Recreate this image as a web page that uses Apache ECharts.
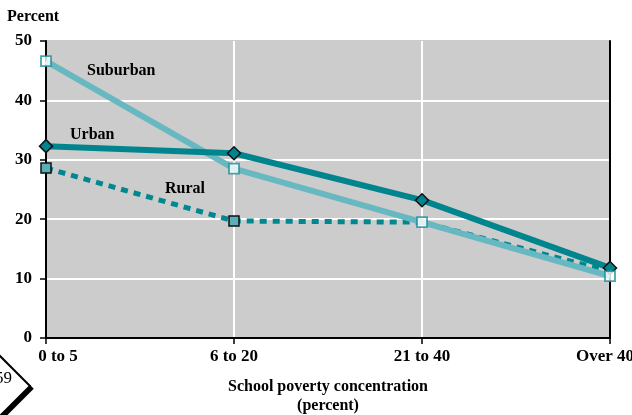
<!DOCTYPE html>
<html>
<head>
<meta charset="utf-8">
<script src="https://cdn.jsdelivr.net/npm/echarts@6/dist/echarts.min.js"></script>
<style>
  html, body { margin: 0; padding: 0; background: #ffffff; }
  #chart { width: 632px; height: 415px; }
</style>
</head>
<body>
<div id="chart"></div>
<script>
// School poverty concentration groups
const categories = ['0 to 5', '6 to 20', '21 to 40', 'Over 40'];

// Percent, by locale
const suburbanValues = [46.6, 28.5, 19.5, 10.4];
const urbanValues = [32.3, 31.1, 23.2, 11.8];
const ruralValues = [28.6, 19.7, 19.5, 11.2];

const yTicks = [0, 10, 20, 30, 40, 50];

const FONT = '"Liberation Serif", "Times New Roman", serif';
const DARK = '#00848e';
const LIGHT = '#68b8c2';
const RURAL = '#00878f';

const chart = echarts.init(document.getElementById('chart'), null, { renderer: 'canvas' });

// rural markers are only drawn where they are not hidden under another series
const ruralData = ruralValues.map((v, i) => (i < 2 ? v : { value: v, symbol: 'none' }));

const labelBase = { color: '#000', fontFamily: FONT, fontWeight: 'bold', fontSize: 17 };

chart.setOption({
  animation: false,
  backgroundColor: '#ffffff',
  textStyle: { fontFamily: FONT },
  grid: {
    left: 46, right: 22, top: 41, bottom: 77,
    containLabel: false,
    outerBoundsMode: 'none',
    show: true, backgroundColor: '#cccccc', borderWidth: 0
  },
  xAxis: {
    type: 'category',
    data: categories,
    boundaryGap: false,
    axisLine: { lineStyle: { color: '#000', width: 2 } },
    axisTick: { show: true, length: 6, lineStyle: { color: '#000', width: 1.5 } },
    axisLabel: {
      ...labelBase,
      margin: 10,
      formatter: (v, i) => (i === 0 ? '{first|' + v + '}' : i === categories.length - 1 ? '{last|' + v + '}' : v),
      rich: {
        first: { ...labelBase, padding: [0, 0, 0, 24] },
        last: { ...labelBase, padding: [0, 10, 0, 0] }
      }
    },
    splitLine: { show: true, lineStyle: { color: '#ffffff', width: 2 } },
    name: 'School poverty concentration\n(percent)',
    nameLocation: 'middle',
    nameGap: 39,
    nameTextStyle: {
      color: '#000', fontFamily: FONT, fontWeight: 'bold', fontSize: 16, lineHeight: 19
    }
  },
  yAxis: [
    {
      type: 'value',
      min: yTicks[0], max: yTicks[yTicks.length - 1], interval: 10,
      axisLine: { show: true, lineStyle: { color: '#000', width: 2 } },
      axisTick: { show: true, length: 6, lineStyle: { color: '#000', width: 1.5 } },
      axisLabel: { ...labelBase, margin: 14 },
      splitLine: {
        show: true,
        lineStyle: { color: ['#ffffff', '#ffffff', '#ffffff', '#ffffff', '#ffffff', '#cccccc'], width: 2 }
      }
    },
    {
      type: 'value',
      position: 'right',
      min: yTicks[0], max: yTicks[yTicks.length - 1], interval: 10,
      axisLine: { show: true, lineStyle: { color: '#000', width: 2 } },
      axisTick: { show: false },
      axisLabel: { show: false },
      splitLine: { show: false }
    }
  ],
  series: [
    {
      name: 'Rural',
      type: 'line',
      data: ruralData,
      z: 2,
      lineStyle: { color: RURAL, width: 5, type: [7, 6] },
      symbol: 'rect',
      symbolSize: 10,
      itemStyle: { color: '#5aafb8', borderColor: '#111', borderWidth: 1.5 }
    },
    {
      name: 'Suburban',
      type: 'line',
      data: suburbanValues,
      z: 3,
      showSymbol: false,
      lineStyle: { color: LIGHT, width: 6 }
    },
    {
      name: 'Urban',
      type: 'line',
      data: urbanValues,
      z: 4,
      lineStyle: { color: DARK, width: 6 },
      symbol: 'diamond',
      symbolSize: [13, 13],
      itemStyle: { color: DARK, borderColor: '#111', borderWidth: 1.5 }
    },
    {
      name: 'Suburban markers',
      type: 'scatter',
      data: suburbanValues,
      z: 5,
      symbol: 'rect',
      symbolSize: 10,
      itemStyle: { color: '#ffffff', borderColor: '#1a8f99', borderWidth: 1.8 }
    }
  ],
  graphic: [
    {
      type: 'text', x: 7, y: 9,
      style: { text: 'Percent', fill: '#000', font: 'bold 16px ' + FONT }
    },
    {
      type: 'text', x: 87, y: 63,
      style: { text: 'Suburban', fill: '#000', font: 'bold 16px ' + FONT }
    },
    {
      type: 'text', x: 70, y: 127,
      style: { text: 'Urban', fill: '#000', font: 'bold 16px ' + FONT }
    },
    {
      type: 'text', x: 165, y: 181,
      style: { text: 'Rural', fill: '#000', font: 'bold 16px ' + FONT }
    },
    // page-number badge in the lower-left corner
    {
      type: 'polygon',
      shape: { points: [[-34, 386], [-2, 354], [30, 386], [-2, 418]] },
      style: { fill: '#ffffff', stroke: '#000', lineWidth: 2 },
      z: 10
    },
    {
      type: 'polyline',
      shape: { points: [[32, 387], [0, 419]] },
      style: { stroke: '#000', lineWidth: 5, fill: null },
      z: 11
    },
    {
      type: 'text', x: -5, y: 370,
      style: { text: '59', fill: '#000', font: '17px ' + FONT },
      z: 12
    }
  ]
});
</script>
</body>
</html>
